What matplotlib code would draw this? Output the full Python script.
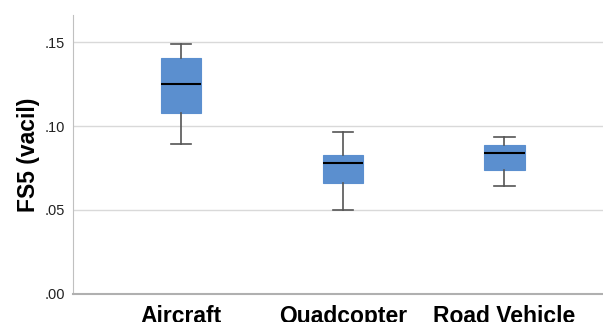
import matplotlib
matplotlib.use("Agg")
import matplotlib.pyplot as plt

# group names and box statistics
groups = ["Aircraft", "Quadcopter", "Road Vehicle"]
whisker_low = [0.0893, 0.0500, 0.0645]
q1 = [0.1076, 0.0659, 0.0740]
medians = [0.1248, 0.0780, 0.0841]
q3 = [0.1407, 0.0825, 0.0885]
whisker_high = [0.1488, 0.0962, 0.0933]
yticks = [0.00, 0.05, 0.10, 0.15]
ytick_labels = [".00", ".05", ".10", ".15"]

plt.rcParams['font.family'] = ['Liberation Sans', 'DejaVu Sans']

stats = []
for name, lo, a, m, b, hi in zip(groups, whisker_low, q1, medians, q3, whisker_high):
    stats.append(dict(label=name, whislo=lo, q1=a, med=m, q3=b, whishi=hi, fliers=[]))

fig = plt.figure(figsize=(6.03, 3.22), dpi=100)
ax = fig.add_axes([0.121, 0.087, 0.879, 0.866])

ax.bxp(stats, positions=[1, 2, 3], widths=0.25, patch_artist=True,
       showfliers=False,
       boxprops=dict(facecolor="#5b8fcf", edgecolor="#5b8fcf", linewidth=0.8),
       medianprops=dict(color="black", linewidth=1.5),
       whiskerprops=dict(color="#555555", linewidth=1.2),
       capprops=dict(color="#555555", linewidth=1.2),
       capwidths=0.125)

ax.set_xlim(0.33, 3.61)
ax.set_ylim(0, 0.166)
ax.set_yticks(yticks)
ax.set_yticklabels(ytick_labels)
ax.yaxis.grid(True, color="#d9d9d9", linewidth=1)
ax.set_axisbelow(True)
ax.tick_params(axis="y", length=0, pad=6, labelsize=10.5, colors="#222222")
ax.tick_params(axis="x", length=0, pad=8, labelsize=16.5)
for lbl in ax.get_xticklabels():
    lbl.set_fontweight("bold")
ax.set_ylabel("FS5 (vacil)", fontsize=16.5, fontweight="bold", labelpad=3)

for side in ["top", "right"]:
    ax.spines[side].set_visible(False)
ax.spines["left"].set_color("#c0c0c0")
ax.spines["bottom"].set_color("#b0b0b0")
ax.spines["bottom"].set_linewidth(1.5)

fig.savefig("out.png", dpi=100)
